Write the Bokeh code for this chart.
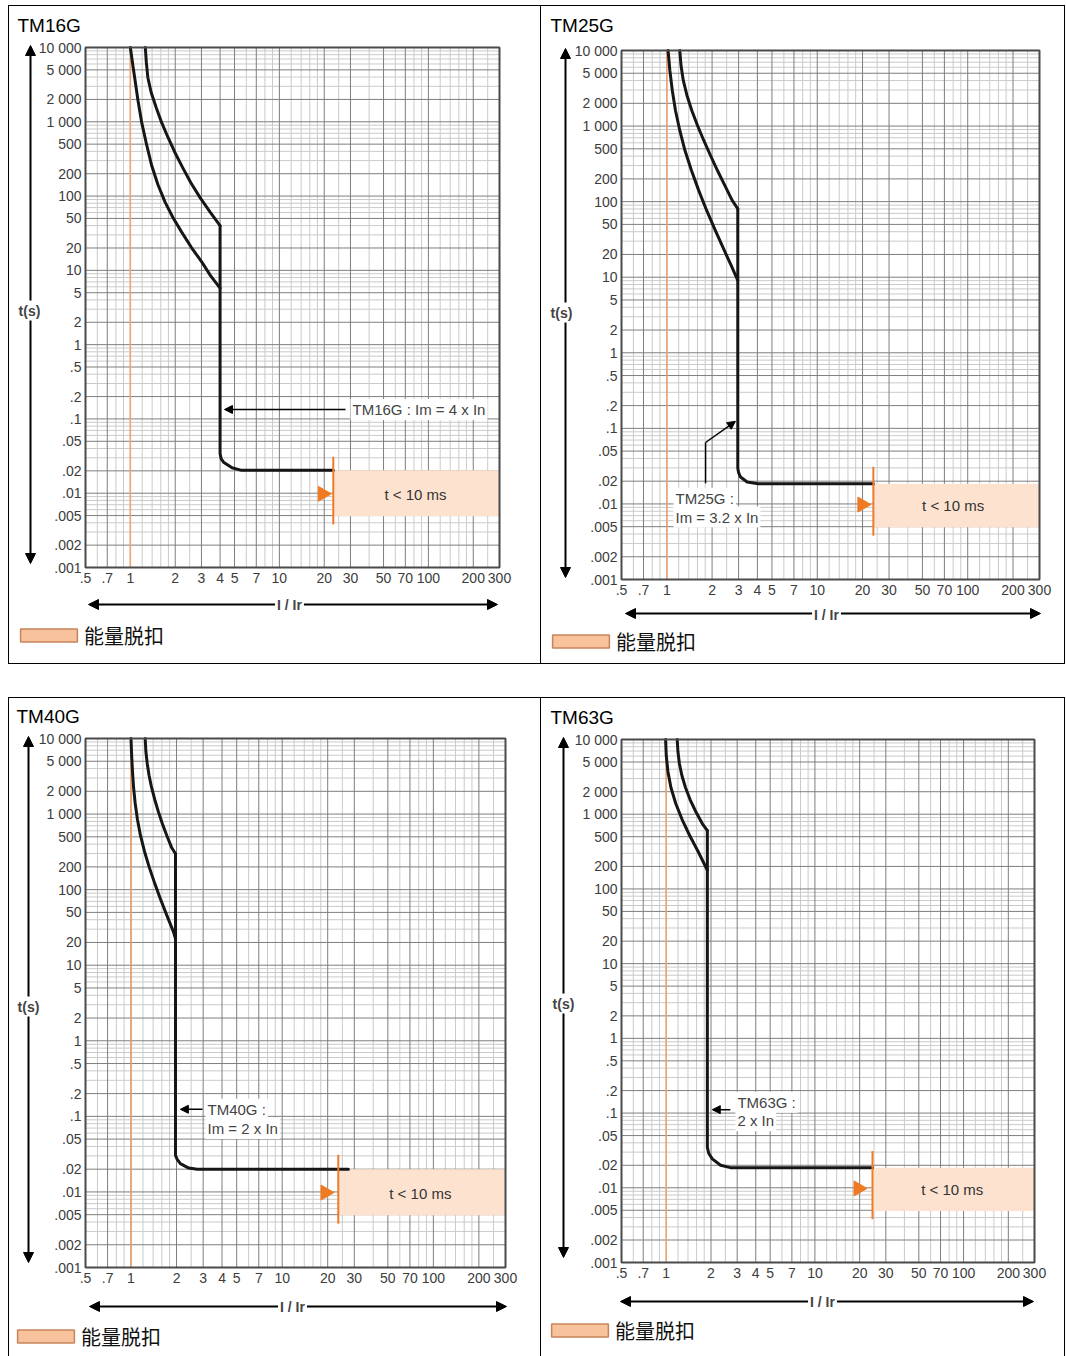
import math
from bokeh.plotting import figure
from bokeh.models import FixedTicker, Label, Arrow, NormalHead, Legend, LegendItem, Spacer, Range1d
from bokeh.layouts import column, row
from bokeh.embed import file_html
from bokeh.resources import INLINE
from bokeh.core.properties import value

# ---------------- data ----------------
breakers = ["TM16G", "TM25G", "TM40G", "TM63G"]

x_limits = [0.5, 300]
y_limits = [0.001, 10000]
x_tick_values = [0.5, 0.7, 1, 2, 3, 4, 5, 7, 10, 20, 30, 50, 70, 100, 200, 300]
x_tick_labels = [".5", ".7", "1", "2", "3", "4", "5", "7", "10", "20", "30", "50", "70", "100", "200", "300"]
y_tick_values = [10000, 5000, 2000, 1000, 500, 200, 100, 50, 20, 10, 5, 2, 1,
                 0.5, 0.2, 0.1, 0.05, 0.02, 0.01, 0.005, 0.002, 0.001]
y_tick_labels = ["10 000", "5 000", "2 000", "1 000", "500", "200", "100", "50", "20", "10", "5", "2", "1",
                 ".5", ".2", ".1", ".05", ".02", ".01", ".005", ".002", ".001"]
x_minor_multiples = [1.2, 1.4, 1.6, 1.8, 2.5, 3, 4, 5, 6, 7, 8, 9]
y_minor_multiples = [3, 4, 6, 7, 8, 9]
ir_line_x = 1.0

# thermal curves (lower / upper) and magnetic + instantaneous part
tm16g_lower_x = [1.0, 1.04, 1.08, 1.125, 1.19, 1.28, 1.39, 1.53, 1.71, 1.93, 2.21, 2.57, 3.02, 3.45, 4.0]
tm16g_lower_y = [10000, 5700, 3400, 1935, 990, 510, 258, 143, 83, 51.5, 32.7, 20.3, 12.9, 8.5, 5.75]
tm16g_upper_x = [1.26, 1.28, 1.31, 1.38, 1.49, 1.62, 1.79, 1.99, 2.24, 2.54, 2.93, 3.45, 4.0]
tm16g_upper_y = [10000, 6300, 3950, 2480, 1560, 980, 615, 386, 243, 152, 96, 60, 40]
tm16g_inst_x = [4.0, 4.0, 4.07, 4.22, 4.81, 5.57, 23.0]
tm16g_inst_y = [40, 0.034, 0.029, 0.0262, 0.022, 0.0203, 0.0203]

tm25g_lower_x = [1.02, 1.048, 1.088, 1.142, 1.22, 1.321, 1.459, 1.629, 1.841, 2.101, 2.411, 2.678, 2.963]
tm25g_lower_y = [10000, 5437, 2957, 1608, 874, 475, 258, 141, 76.5, 41.6, 22.6, 14.3, 9.07]
tm25g_upper_x = [1.22, 1.243, 1.287, 1.362, 1.466, 1.6, 1.761, 1.952, 2.172, 2.429, 2.72, 2.963]
tm25g_upper_y = [10000, 6332, 4011, 2540, 1608, 1018, 645, 408, 258, 164, 104, 80.6]
tm25g_inst_x = [2.963, 2.963, 3.0, 3.09, 3.42, 4.06, 23.6]
tm25g_inst_y = [80.6, 0.0296, 0.026, 0.0227, 0.0195, 0.0185, 0.0185]

tm40g_lower_x = [1.0, 1.01, 1.023, 1.04, 1.066, 1.103, 1.155, 1.228, 1.321, 1.435, 1.57, 1.726, 1.904, 1.97]
tm40g_lower_y = [10000, 5959, 3660, 2248, 1381, 848, 521, 320, 197, 121, 74.2, 45.6, 28, 22.4]
tm40g_upper_x = [1.241, 1.254, 1.28, 1.317, 1.368, 1.435, 1.515, 1.61, 1.724, 1.855, 1.97]
tm40g_upper_y = [10000, 6730, 4670, 3240, 2248, 1560, 1082, 751, 521, 362, 298]
tm40g_inst_x = [1.97, 1.97, 2.02, 2.12, 2.41, 2.74, 27.4]
tm40g_inst_y = [298, 0.0305, 0.027, 0.0237, 0.0207, 0.0199, 0.0199]

tm63g_lower_x = [0.99, 1.0, 1.026, 1.075, 1.158, 1.279, 1.437, 1.638, 1.89]
tm63g_lower_y = [10000, 6106, 3728, 2277, 1390, 849, 519, 317, 178]
tm63g_upper_x = [1.185, 1.198, 1.226, 1.274, 1.347, 1.446, 1.578, 1.747, 1.89]
tm63g_upper_y = [10000, 6910, 4772, 3297, 2277, 1573, 1087, 751, 605]
tm63g_inst_x = [1.89, 1.89, 1.93, 2.04, 2.32, 2.7, 24.4]
tm63g_inst_y = [605, 0.0348, 0.029, 0.0244, 0.0200, 0.0186, 0.0186]

# energy-based trip zone (t < 10 ms)
energy_x_start = [23.0, 23.6, 23.5, 24.4]
energy_y_top = [0.0203, 0.0185, 0.0199, 0.0186]
energy_y_bottom = 0.0049
trip_marker_y = [0.0038, 0.031]
triangle_x = [19.5, 19.9, 19.3, 19.6]
triangle_y = 0.0098
energy_text = "t < 10 ms"
energy_text_x = [82, 80, 82, 84]
energy_text_y = 0.0096
legend_label = "能量脱扣"

# pointer notes
tm16g_note_lines = ["TM16G : Im = 4 x In"]
tm16g_note_x = 30.0
tm16g_note_y = [0.134]
tm16g_pointer_x = [27.8, 4.28]
tm16g_pointer_y = [0.134, 0.134]

tm25g_note_lines = ["TM25G :", "Im = 3.2 x In"]
tm25g_note_x = 1.108
tm25g_note_y = [0.0119, 0.0067]
tm25g_pointer_x = [1.81, 1.81, 2.86]
tm25g_pointer_y = [0.0188, 0.065, 0.124]

tm40g_note_lines = ["TM40G :", "Im = 2 x In"]
tm40g_note_x = 3.11
tm40g_note_y = [0.124, 0.069]
tm40g_pointer_x = [2.97, 2.12]
tm40g_pointer_y = [0.124, 0.124]

tm63g_note_lines = ["TM63G :", "2 x In"]
tm63g_note_x = 2.92
tm63g_note_y = [0.1395, 0.079]
tm63g_pointer_x = [2.7, 2.04]
tm63g_pointer_y = [0.111, 0.111]

y_axis_name = "t(s)"
x_axis_name = "I / Ir"

# ---------------- layout (page pixel positions / styles only) ----------------
# origin = top-left of the panel on the page, chart = (left, top, right, bottom) of the log-log box
geom = {
    "TM16G": dict(origin=(8, 5), w=533, h=659, chart=(85, 47, 499, 567),
                  shadow="inset 1px 1px 0 0 #000, inset -1px -1px 0 0 #000",
                  title=(17, 25), varrow=(30, 45, 563), tlabel=(29, 310),
                  harrow=(604, 88, 497), hlabel=(289, 604), swatch=(20, 637.5)),
    "TM25G": dict(origin=(541, 5), w=524, h=659, chart=(621, 50, 1039, 579),
                  shadow="inset 0 1px 0 0 #000, inset -1px -1px 0 0 #000",
                  title=(550, 25), varrow=(565, 48, 577), tlabel=(561, 312),
                  harrow=(613, 625, 1040), hlabel=(826, 614), swatch=(552, 643.5)),
    "TM40G": dict(origin=(8, 697), w=533, h=659, chart=(85, 738, 505, 1267),
                  shadow="inset 1px 1px 0 0 #000, inset -1px 0 0 0 #000",
                  title=(16, 716), varrow=(28, 736, 1262), tlabel=(28, 1006),
                  harrow=(1306, 89, 506), hlabel=(292, 1306), swatch=(17, 1338.5)),
    "TM63G": dict(origin=(541, 697), w=524, h=659, chart=(621, 739, 1034, 1262),
                  shadow="inset 0 1px 0 0 #000, inset -1px 0 0 0 #000",
                  title=(550, 717), varrow=(563, 737, 1257), tlabel=(563, 1003),
                  harrow=(1301, 620, 1033), hlabel=(822, 1301), swatch=(551, 1332.5)),
}

FONT = "Liberation Sans"
CURVE_COLOR = "#161616"
GRID_MAJOR = "#7e7e7e"
GRID_MINOR = "#cacaca"


def decade_lines(multiples, lo, hi, exclude):
    out = []
    for k in range(-4, 4):
        d = 10.0 ** k
        for m in multiples:
            v = round(m * d, 9)
            if lo < v < hi and all(abs(v - e) > 1e-12 for e in exclude):
                out.append(v)
    return sorted(set(out))


x_minor_grid = decade_lines(x_minor_multiples, x_limits[0], x_limits[1], x_tick_values)
y_minor_grid = decade_lines(y_minor_multiples, y_limits[0], y_limits[1], y_tick_values)


def log_range(v0, v1, p0, p1, size):
    a, b = math.log10(v0), math.log10(v1)
    ppd = (p1 - p0) / (b - a)
    return 10 ** (a - p0 / ppd), 10 ** (b + (size - p1) / ppd)


def make_panel(i, name, lower, upper, inst, note_lines, note_x, note_y, ptr_x, ptr_y):
    g = geom[name]
    ox, oy = g["origin"]
    W, H = g["w"], g["h"]
    cl, ct, cr, cb = g["chart"]

    def sx(ax):
        return ax - ox

    def sy(ay):
        return oy + H - ay

    xr = log_range(x_limits[0], x_limits[1], sx(cl), sx(cr), W)
    yr = log_range(y_limits[0], y_limits[1], sy(cb), sy(ct), H)

    p = figure(width=W, height=H, x_axis_type="log", y_axis_type="log",
               x_range=Range1d(*xr), y_range=Range1d(*yr),
               output_backend="svg", toolbar_location=None, title=None,
               min_border=0, border_fill_color=None, background_fill_color=None,
               outline_line_color=None, styles={"box-shadow": g["shadow"]})
    p.xgrid.visible = False
    p.ygrid.visible = False

    for ax, ticks, labels in ((p.xaxis[0], x_tick_values, x_tick_labels),
                              (p.yaxis[0], y_tick_values, y_tick_labels)):
        ax.ticker = FixedTicker(ticks=ticks, minor_ticks=[])
        ax.major_label_overrides = dict(zip(ticks, labels))
        ax.major_tick_line_color = None
        ax.minor_tick_line_color = None
        ax.major_tick_out = 0
        ax.major_tick_in = 0
        ax.minor_tick_out = 0
        ax.minor_tick_in = 0
        ax.axis_line_color = None
        ax.major_label_text_font = FONT
        ax.major_label_text_font_size = "14px"
        ax.major_label_text_color = "#3c3c3c"
    p.xaxis[0].fixed_location = y_limits[0]
    p.yaxis[0].fixed_location = x_limits[0]
    p.xaxis[0].bounds = (x_limits[0], x_limits[1])
    p.yaxis[0].bounds = (y_limits[0], y_limits[1])
    p.xaxis[0].major_label_standoff = 5
    p.yaxis[0].major_label_standoff = 4

    # chart background + grid
    p.quad(left=[x_limits[0]], right=[x_limits[1]], bottom=[y_limits[0]], top=[y_limits[1]],
           fill_color="white", line_color=None)
    n = len(x_minor_grid)
    p.segment(x0=x_minor_grid, y0=[y_limits[0]] * n, x1=x_minor_grid, y1=[y_limits[1]] * n,
              line_color=GRID_MINOR, line_width=1)
    n = len(y_minor_grid)
    p.segment(x0=[x_limits[0]] * n, y0=y_minor_grid, x1=[x_limits[1]] * n, y1=y_minor_grid,
              line_color=GRID_MINOR, line_width=1)
    n = len(x_tick_values)
    p.segment(x0=x_tick_values, y0=[y_limits[0]] * n, x1=x_tick_values, y1=[y_limits[1]] * n,
              line_color=GRID_MAJOR, line_width=1)
    n = len(y_tick_values)
    p.segment(x0=[x_limits[0]] * n, y0=y_tick_values, x1=[x_limits[1]] * n, y1=y_tick_values,
              line_color=GRID_MAJOR, line_width=1)

    # energy zone
    p.quad(left=[energy_x_start[i]], right=[x_limits[1]],
           bottom=[energy_y_bottom], top=[energy_y_top[i]],
           fill_color="#fde3cf", line_color=None)
    # legend swatch style for the same zone (drawn only in the legend)
    swatch = p.quad(left=[energy_x_start[i]], right=[x_limits[1]],
                    bottom=[energy_y_bottom], top=[energy_y_top[i]],
                    fill_color="#f8c29c", line_color="#c8845a", line_width=1.5, visible=False)
    # Ir = 1 line
    p.segment(x0=[ir_line_x], y0=[y_limits[0]], x1=[ir_line_x], y1=[y_limits[1]],
              line_color="#f3a36c", line_width=1.5)
    # curves
    for xs, ys in (lower, upper, inst):
        p.line(xs, ys, line_color=CURVE_COLOR, line_width=3, line_join="round", line_cap="round")
    # trip marker
    p.segment(x0=[energy_x_start[i]], y0=[trip_marker_y[0]], x1=[energy_x_start[i]], y1=[trip_marker_y[1]],
              line_color="#ee7a2a", line_width=2)
    p.scatter(x=[triangle_x[i]], y=[triangle_y], marker="triangle", size=15, angle=-math.pi / 2,
              fill_color="#f07a22", line_color="#f07a22")
    p.text(x=[energy_text_x[i]], y=[energy_text_y], text=[energy_text],
           text_font=value(FONT), text_font_size="15px", text_color="#333333",
           text_align="center", text_baseline="middle")
    # chart frame
    p.quad(left=[x_limits[0]], right=[x_limits[1]], bottom=[y_limits[0]], top=[y_limits[1]],
           fill_color=None, line_color="#4a4a4a", line_width=2)

    # pointer
    if len(ptr_x) > 2:
        p.line(ptr_x[:-1], ptr_y[:-1], line_color="black", line_width=1.5)
    p.add_layout(Arrow(end=NormalHead(size=8, fill_color="black", line_color="black"),
                       x_start=ptr_x[-2], y_start=ptr_y[-2], x_end=ptr_x[-1], y_end=ptr_y[-1],
                       line_color="black", line_width=1.5))
    for txt, ty in zip(note_lines, note_y):
        p.add_layout(Label(x=note_x, y=ty, text=txt, text_font=FONT, text_font_size="15px",
                           text_color="#444444", text_align="left", text_baseline="middle",
                           background_fill_color="white", padding=2))

    # decorations around the chart (screen units of the panel)
    head = dict(size=10, fill_color="black", line_color="black")
    vx, vtop, vbot = g["varrow"]
    p.add_layout(Arrow(start=NormalHead(**head), end=NormalHead(**head),
                       x_start=sx(vx), y_start=sy(vbot), x_end=sx(vx), y_end=sy(vtop),
                       start_units="screen", end_units="screen", line_width=2, line_color="black"))
    hy, hleft, hright = g["harrow"]
    p.add_layout(Arrow(start=NormalHead(**head), end=NormalHead(**head),
                       x_start=sx(hleft), y_start=sy(hy), x_end=sx(hright), y_end=sy(hy),
                       start_units="screen", end_units="screen", line_width=2, line_color="black"))
    tx, ty = g["tlabel"]
    p.add_layout(Label(x=sx(tx), y=sy(ty), x_units="screen", y_units="screen", text=y_axis_name,
                       text_font=FONT, text_font_size="14px", text_font_style="bold",
                       text_align="center", text_baseline="middle",
                       background_fill_color="white", padding=2))
    hx, hyl = g["hlabel"]
    p.add_layout(Label(x=sx(hx), y=sy(hyl), x_units="screen", y_units="screen", text=x_axis_name,
                       text_font=FONT, text_font_size="14px", text_font_style="bold",
                       text_align="center", text_baseline="middle",
                       background_fill_color="white", padding=2))
    ttx, tty = g["title"]
    p.add_layout(Label(x=sx(ttx), y=sy(tty), x_units="screen", y_units="screen", text=name,
                       text_font=FONT, text_font_size="19px", text_color="black",
                       text_align="left", text_baseline="middle"))

    lx, lcy = g["swatch"]
    legend = Legend(items=[LegendItem(label=value(legend_label), renderers=[swatch])],
                    location=(sx(lx) - 7, sy(lcy) - 12), glyph_width=71, glyph_height=16,
                    label_standoff=0, padding=0, margin=0, spacing=0, border_line_color=None,
                    background_fill_alpha=0, inactive_fill_alpha=0,
                    label_text_font="Noto Sans CJK SC",
                    label_text_font_size="20px", label_text_color="#111111", label_height=16)
    p.add_layout(legend)
    return p


p1 = make_panel(0, "TM16G", (tm16g_lower_x, tm16g_lower_y), (tm16g_upper_x, tm16g_upper_y),
                (tm16g_inst_x, tm16g_inst_y), tm16g_note_lines, tm16g_note_x, tm16g_note_y,
                tm16g_pointer_x, tm16g_pointer_y)
p2 = make_panel(1, "TM25G", (tm25g_lower_x, tm25g_lower_y), (tm25g_upper_x, tm25g_upper_y),
                (tm25g_inst_x, tm25g_inst_y), tm25g_note_lines, tm25g_note_x, tm25g_note_y,
                tm25g_pointer_x, tm25g_pointer_y)
p3 = make_panel(2, "TM40G", (tm40g_lower_x, tm40g_lower_y), (tm40g_upper_x, tm40g_upper_y),
                (tm40g_inst_x, tm40g_inst_y), tm40g_note_lines, tm40g_note_x, tm40g_note_y,
                tm40g_pointer_x, tm40g_pointer_y)
p4 = make_panel(3, "TM63G", (tm63g_lower_x, tm63g_lower_y), (tm63g_upper_x, tm63g_upper_y),
                (tm63g_inst_x, tm63g_inst_y), tm63g_note_lines, tm63g_note_x, tm63g_note_y,
                tm63g_pointer_x, tm63g_pointer_y)

layout = column(row(p1, p2, spacing=0), Spacer(width=1057, height=33), row(p3, p4, spacing=0),
                spacing=0, margin=(5, 0, 0, 8))

open("out.html", "w", encoding="utf-8").write(file_html(layout, INLINE, title="TM-G curves"))
